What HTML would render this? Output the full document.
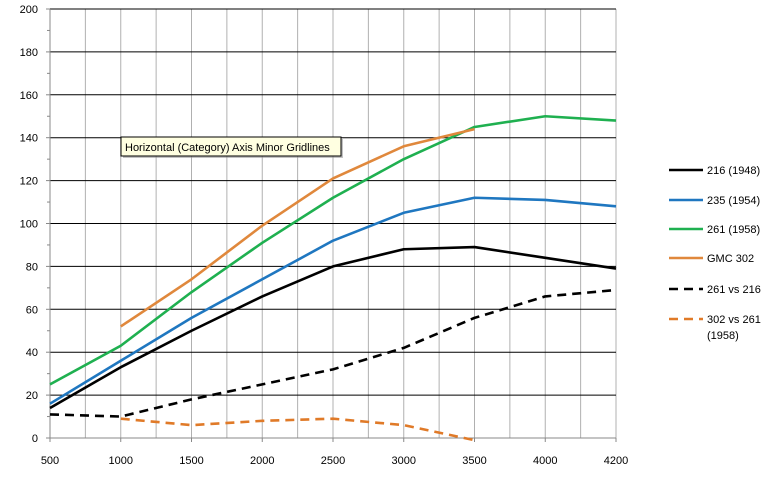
<!DOCTYPE html>
<html><head><meta charset="utf-8"><style>
body{margin:0;background:#fff;font-family:"Liberation Sans",sans-serif;}
svg text{font-family:"Liberation Sans",sans-serif;}
</style></head><body>
<svg id="chart" width="784" height="475" xmlns="http://www.w3.org/2000/svg">
<g id="grid"></g>
<g id="axes"></g>
<g id="series"></g>
<g id="legend"></g>
<g>
<rect x="123" y="139" width="220" height="19" fill="#888" opacity="0.5"/>
<rect x="121" y="137" width="220" height="19" fill="#ffffe1" stroke="#000" stroke-width="1"/>
<text x="125" y="151" font-size="11" fill="#000">Horizontal (Category) Axis Minor Gridlines</text>
</g>
</svg>
<script>
const categories=[500,1000,1500,2000,2500,3000,3500,4000,4200];
const s216=[14,33,50,66,80,88,89,84,79];
const s235=[16,36,56,74,92,105,112,111,108];
const s261=[25,43,68,91,112,130,145,150,148];
const sGMC=[null,52,74,99,121,136,144,null,null];
const s261vs216=[11,10,18,25,32,42,56,66,69];
const s302vs261=[null,9,6,8,9,6,-1,null,null];
const yTicks=[0,20,40,60,80,100,120,140,160,180,200];
const seriesNames=["216 (1948)","235 (1954)","261 (1958)","GMC 302","261 vs 216","302 vs 261"];
const NS="http://www.w3.org/2000/svg";
const X0=50,XS=70.75,Y0=438,YT=9;
const xs=i=>X0+i*XS;
const ys=v=>Y0-(v/200)*(Y0-YT);
function mk(t,a,p){const e=document.createElementNS(NS,t);for(const k in a)e.setAttribute(k,a[k]);p.appendChild(e);return e;}
const grid=document.getElementById('grid'),axes=document.getElementById('axes'),ser=document.getElementById('series'),leg=document.getElementById('legend');
for(let i=0;i<=2*(categories.length-1);i++){const x=X0+i*XS/2;
 const l=mk('line',{x1:x,x2:x,y1:YT,y2:Y0,stroke:'#b0b0b0','stroke-width':1},grid);
 }
yTicks.forEach(v=>{const y=ys(v);
 if(v>0){const l=mk('line',{x1:X0,x2:xs(categories.length-1),y1:y,y2:y,stroke:'#000','stroke-width':1},grid);
 }
 const t=mk('text',{x:38,y:y+4,'font-size':11,'text-anchor':'end',fill:'#000'},axes);t.textContent=v;
 
 mk('line',{x1:X0-4,x2:X0,y1:y,y2:y,stroke:'#888'},axes);
 if(v<200){const ym=ys(v+10);mk('line',{x1:X0-3,x2:X0,y1:ym,y2:ym,stroke:'#888'},axes);}
});
mk('line',{x1:X0,x2:X0,y1:YT,y2:Y0,stroke:'#888'},axes);
mk('line',{x1:X0,x2:xs(categories.length-1),y1:Y0,y2:Y0,stroke:'#888'},axes);
categories.forEach((c,i)=>{const t=mk('text',{x:xs(i),y:Y0+26,'font-size':11,'text-anchor':'middle',fill:'#000'},axes);t.textContent=c;
 
 mk('line',{x1:xs(i),x2:xs(i),y1:Y0,y2:Y0+4,stroke:'#888'},axes);});
const defs=[[s216,'#000',''],[s235,'#1f77c0',''],[s261,'#1fb050',''],[sGMC,'#e0883c',''],[s261vs216,'#000','9,6'],[s302vs261,'#e07a28','9,6']];
defs.forEach((d,k)=>{let p='';d[0].forEach((v,i)=>{if(v==null)return;p+=(p?'L':'M')+xs(i)+','+ys(v);});
 const e=mk('path',{d:p,fill:'none',stroke:d[1],'stroke-width':2.6,'stroke-dasharray':d[2]||'none','stroke-linejoin':'round'},ser);
 
 const ly=[170,200,229,258,289,319][k];
 mk('line',{x1:669,x2:703,y1:ly,y2:ly,stroke:d[1],'stroke-width':2.5,'stroke-dasharray':d[2]||'none'},leg);
 const t=mk('text',{x:707,y:ly+4,'font-size':11,fill:'#000'},leg);t.textContent=k==5?'302 vs 261':seriesNames[k];
 
 if(k==5){const t2=mk('text',{x:707,y:ly+20,'font-size':11,fill:'#000'},leg);t2.textContent='(1958)';}
});
</script>
</body></html>
